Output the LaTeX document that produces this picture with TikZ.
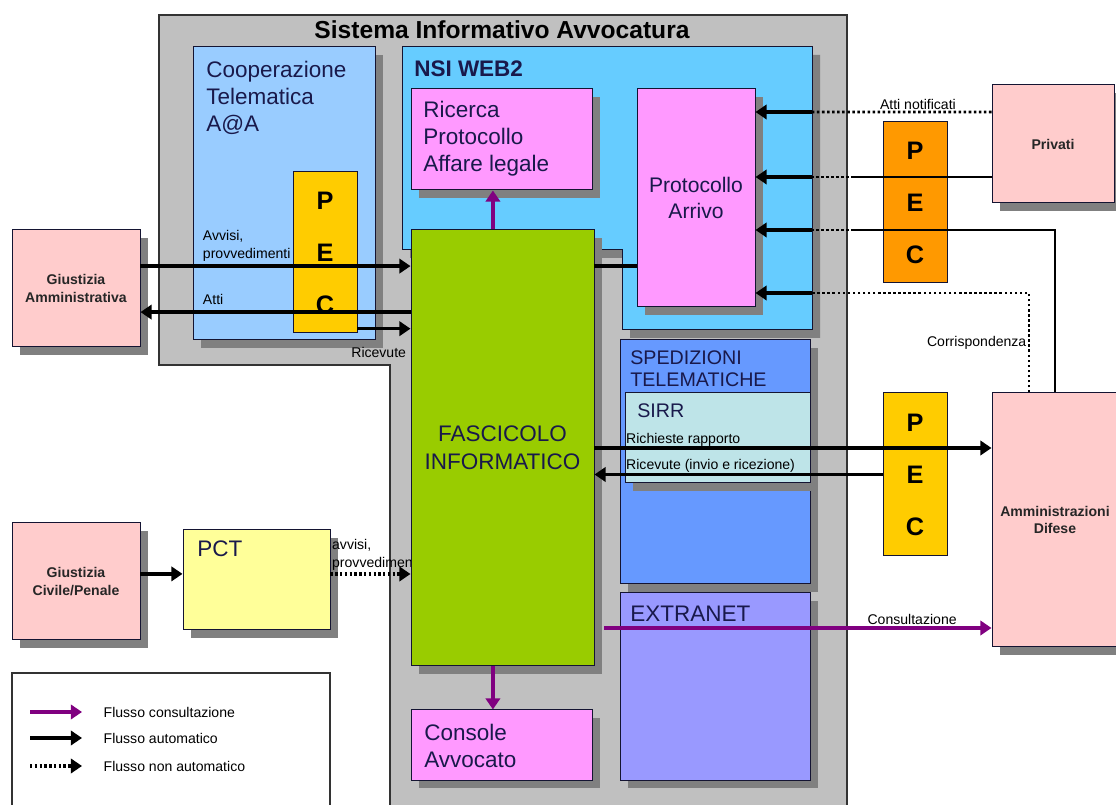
\documentclass[tikz,border=0pt]{standalone}
\usepackage{fontspec}
\setmainfont{Liberation Sans}
\usetikzlibrary{
    positioning,
    arrows.meta,
    shadows
}

\definecolor{siagray}{RGB}{192,192,192}
\definecolor{coopblue}{RGB}{153,204,255}
\definecolor{nsiblue}{RGB}{102,204,255}
\definecolor{magentabox}{RGB}{255,153,255}
\definecolor{fascgreen}{RGB}{153,204,0}
\definecolor{spedblue}{RGB}{102,153,255}
\definecolor{sirrcyan}{RGB}{190,228,232}
\definecolor{extralilac}{RGB}{153,153,255}
\definecolor{pctyellow}{RGB}{255,255,153}
\definecolor{extpink}{RGB}{255,204,204}
\definecolor{pecyellow}{RGB}{255,204,0}
\definecolor{pecorange}{RGB}{255,153,0}
\definecolor{consultpurple}{RGB}{128,0,128}
\definecolor{boxline}{RGB}{20,20,50}
\definecolor{titlenavy}{RGB}{25,25,75}

\begin{document}
\begin{tikzpicture}[
    font=\fontsize{10}{13}\selectfont,
    box/.style={
        draw=boxline,
        line width=0.7pt,
        inner sep=0pt,
        drop shadow={shadow xshift=2mm, shadow yshift=-2mm, fill=black!50, opacity=1}
    },
    pec/.style={
        draw=boxline,
        line width=0.7pt,
        minimum width=1.6cm,
        align=center,
        font=\fontsize{18}{37}\selectfont\bfseries
    },
    ext/.style={
        box,
        fill=extpink,
        align=center,
        text=black!85,
        font=\fontsize{10}{12.5}\selectfont\bfseries
    },
    boxtitle/.style={
        anchor=north west,
        inner sep=0pt,
        align=left,
        text=titlenavy,
        font=\fontsize{16}{19.2}\selectfont
    },
    lbl/.style={inner sep=1pt, align=left, font=\fontsize{10}{13}\selectfont},
    flow/.style={line width=2.4pt, -{Triangle[length=2.8mm, width=3.6mm]}},
    cflow/.style={flow, draw=consultpurple},
    dflow/.style={flow, dash pattern=on 1.7pt off 1.7pt},
    wire/.style={line width=1.6pt},
    dwire/.style={line width=1.8pt, dash pattern=on 1.8pt off 1.8pt}
]

% Set bounding box to the size of the reference
\useasboundingbox (0,0) rectangle (27.9,20.125);

% ================= SISTEMA INFORMATIVO =================
\draw[draw=black!80, line width=0.8pt, fill=siagray]
    (3.975,19.75) -- (21.175,19.75) -- (21.175,-0.2) -- (9.75,-0.2)
    -- (9.75,11.0) -- (3.975,11.0) -- cycle;
\node[font=\fontsize{17.5}{21}\selectfont\bfseries] (siaT) at (12.55,19.38)
{Sistema Informativo Avvocatura};

% ---- Cooperazione telematica
\node[box, fill=coopblue, minimum width=4.55cm, minimum height=7.325cm] (coop) at (7.1,15.2875) {};
\node[boxtitle] (coopT) at (5.15,18.6) {Cooperazione\\Telematica\\A@A};
\node[pec, fill=pecyellow, minimum height=4.025cm] (pecA) at (8.125,13.8125) {P\\E\\C};

% ---- NSI WEB2
\draw[box, fill=nsiblue]
    (10.05,18.95) -- (20.3,18.95) -- (20.3,11.875) -- (15.55,11.875)
    -- (15.55,13.875) -- (10.05,13.875) -- cycle;
\coordinate (nsiR) at (20.3,18.95);
\coordinate (dotEnd) at (21.35,18.95);
\node[boxtitle, font=\fontsize{16}{19.2}\selectfont\bfseries] (nsiT) at (10.35,18.6) {NSI WEB2};

\node[box, fill=magentabox, minimum width=4.525cm, minimum height=2.525cm] (ricerca) at (12.5375,16.6375) {};
\node[boxtitle] (ricercaT) at (10.575,17.6) {Ricerca\\Protocollo\\Affare legale};

\node[box, fill=magentabox, minimum width=2.95cm, minimum height=5.45cm, align=center,
      text=titlenavy, font=\fontsize{15}{19}\selectfont] (protArr) at (17.4,15.175) {Protocollo\\Arrivo};

% ---- Spedizioni telematiche
\node[box, fill=spedblue, minimum width=4.75cm, minimum height=6.1cm] (sped) at (17.875,8.575) {};
\node[boxtitle, font=\fontsize{14}{16.3}\selectfont] (spedT) at (15.75,11.375) {SPEDIZIONI\\TELEMATICHE};
\node[box, fill=sirrcyan, minimum width=4.625cm, minimum height=2.25cm] (sirr) at (17.9375,9.175) {};
\node[boxtitle, font=\fontsize{14}{16.3}\selectfont] (sirrT) at (15.925,10.05) {SIRR};

% ---- Extranet and console
\node[box, fill=extralilac, minimum width=4.75cm, minimum height=4.675cm] (extra) at (17.875,2.9625) {};
\node[boxtitle] (extraT) at (15.75,4.975) {EXTRANET};

\node[box, fill=magentabox, minimum width=4.525cm, minimum height=1.75cm] (console) at (12.5375,1.5) {};
\node[boxtitle] (consoleT) at (10.6,2.025) {Console\\Avvocato};

% ================= GIUSTIZIA CIVILE / PCT =================
\node[ext, minimum width=3.2cm, minimum height=2.925cm] (giuAmm) at (1.9,12.9125) {Giustizia\\Amministrativa};
\node[ext, minimum width=3.2cm, minimum height=2.925cm] (giuCiv) at (1.9,5.5875) {Giustizia\\Civile/Penale};

\node[box, fill=pctyellow, minimum width=3.675cm, minimum height=2.5cm] (pct) at (6.4125,5.625) {};
\node[boxtitle] (pctT) at (4.925,6.6) {PCT};
\node[lbl, anchor=south west] (pctLbl) at ([yshift=2mm]pct.east) {avvisi,\\provvedimenti};

% ---- Fascicolo (drawn after the PCT label, which it hides)
\node[box, fill=fascgreen, minimum width=4.575cm, minimum height=10.9cm, align=center,
      text=titlenavy, font=\fontsize{16}{20}\selectfont] (fasc) at (12.5625,8.925) {FASCICOLO\\INFORMATICO};

% ================= ESTERNI =================
\node[pec, fill=pecorange, minimum height=4.025cm] (pecB) at (22.875,15.0625) {P\\E\\C};
\node[pec, fill=pecyellow, minimum height=4.075cm] (pecC) at (22.875,8.2625) {P\\E\\C};

\node[ext, minimum width=3.05cm, minimum height=2.95cm] (privati) at (26.325,16.525) {Privati};
\node[ext, minimum width=3.15cm, minimum height=6.35cm] (ammDif) at (26.375,7.125) {Amministrazioni\\Difese};

% ================= ARROWS =================
\draw[flow] ([yshift=5.6mm]giuAmm.east) -- ([yshift=5.6mm]giuAmm.east -| fasc.west)
    node[lbl, anchor=south west, pos=0.22, yshift=1pt] {Avvisi,\\provvedimenti};
\draw[flow] ([yshift=-5.9mm]giuAmm.east -| fasc.west) -- ([yshift=-5.9mm]giuAmm.east)
    node[lbl, anchor=south west, pos=0.78, yshift=1mm] {Atti};
\draw[flow] ([yshift=1.2mm]pecA.south east) -- ([yshift=1.2mm]pecA.south east -| fasc.west)
    node[lbl, below, pos=0.4, yshift=-4mm] {Ricevute};

\draw[cflow] ([xshift=-2.4mm]fasc.north) -- ([xshift=-2.4mm]fasc.north |- ricerca.south);
\draw[line width=2.4pt] ([yshift=4.55cm]fasc.east) -- ([yshift=4.55cm]fasc.east -| protArr.west);

% ---- into Protocollo Arrivo
\draw[flow] ([yshift=2.15cm]protArr.east -| nsiR) -- ([yshift=2.15cm]protArr.east);
\draw[dwire] ([yshift=8mm]privati.west) -- ([yshift=2.15cm]protArr.east -| nsiR)
    node[lbl, above, pos=0.41] {Atti notificati};

\draw[flow] ([yshift=5.25mm]protArr.east -| nsiR) -- ([yshift=5.25mm]protArr.east);
\draw[dwire] ([yshift=5.25mm]protArr.east -| dotEnd) -- ([yshift=5.25mm]protArr.east -| nsiR);
\draw[wire] ([yshift=-8.25mm]privati.west) -- ([yshift=-8.25mm]privati.west -| dotEnd);

\draw[flow] ([yshift=-8mm]protArr.east -| nsiR) -- ([yshift=-8mm]protArr.east);
\draw[dwire] ([yshift=-8mm]protArr.east -| dotEnd) -- ([yshift=-8mm]protArr.east -| nsiR);
\draw[wire] (ammDif.north) |- ([yshift=-8mm]protArr.east -| dotEnd);

\draw[flow] ([yshift=-2.375cm]protArr.east -| nsiR) -- ([yshift=-2.375cm]protArr.east);
\draw[dwire] ([xshift=-6.5mm]ammDif.north) |- ([yshift=-2.375cm]protArr.east -| nsiR)
    node[lbl, left, pos=0.25] {Corrispondenza};

% ---- Spedizioni telematiche
\draw[flow] (fasc.east) -- (fasc.east -| ammDif.west);
\node[lbl, anchor=south west] (richLbl) at (sirr.west |- fasc.east) {Richieste rapporto};
\draw[flow] (pecC.west) -- (pecC.west -| fasc.east);
\node[lbl, anchor=south west] (ricLbl) at (sirr.west |- pecC.west) {Ricevute (invio e ricezione)};

% ---- Consultazione
\draw[cflow, shorten <=2.5mm] ([yshift=-2.7cm]ammDif.west -| fasc.east) -- ([yshift=-2.7cm]ammDif.west)
    node[lbl, above, pos=0.8] {Consultazione};
\draw[cflow] ([xshift=-2.4mm]fasc.south) -- ([xshift=-2.4mm]fasc.south |- console.north);

% ---- PCT
\draw[flow] ([yshift=1.9mm]giuCiv.east) -- ([yshift=1.9mm]giuCiv.east -| pct.west);
\draw[dflow] ([yshift=1.5mm]pct.east) -- ([yshift=1.5mm]pct.east -| fasc.west);

% ================= LEGEND =================
\draw[draw=black!80, line width=0.8pt, fill=white] (0.3,-0.2) -- (0.3,3.3) -- (8.25,3.3) -- (8.25,-0.2);
\node[lbl, anchor=west] (lgC) at (2.55,2.325) {Flusso consultazione};
\node[lbl, anchor=west] (lgA) at (2.55,1.675) {Flusso automatico};
\node[lbl, anchor=west] (lgN) at (2.55,0.975) {Flusso non automatico};
\draw[cflow] ([xshift=-1.8cm]lgC.west) -- ([xshift=-0.5cm]lgC.west);
\draw[flow] ([xshift=-1.8cm]lgA.west) -- ([xshift=-0.5cm]lgA.west);
\draw[dflow] ([xshift=-1.8cm]lgN.west) -- ([xshift=-0.5cm]lgN.west);

\end{tikzpicture}
\end{document}
